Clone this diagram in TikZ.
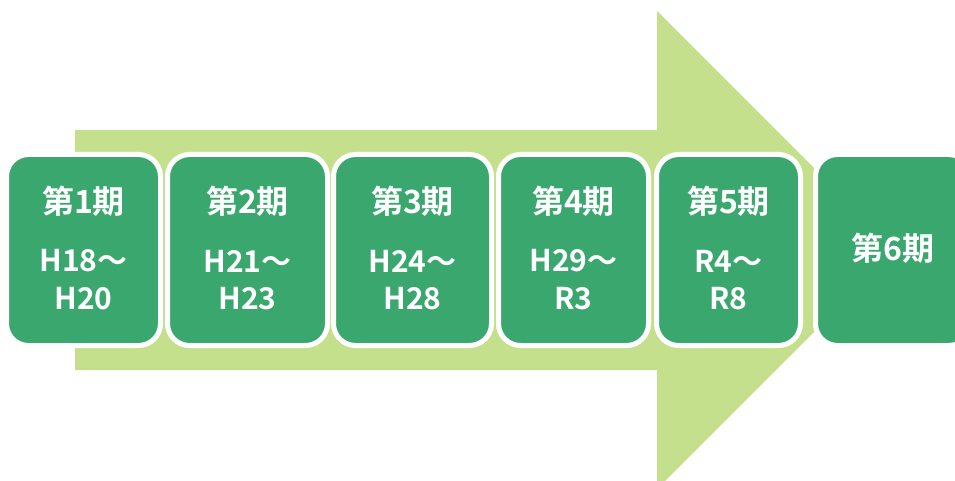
\documentclass[tikz,border=0pt]{standalone}
\usepackage{fontspec}
\newfontfamily\jpb{Noto Sans CJK JP Bold}
\definecolor{dkgreen}{RGB}{58,167,110}
\definecolor{ltgreen}{RGB}{196,224,140}
\tikzset{
  period/.style={draw=white, line width=5pt, fill=dkgreen, rounded corners=22pt,
    inner sep=0pt, minimum height=191pt},
  ttl/.style={text=white, font=\jpb\fontsize{32}{32}\selectfont, inner sep=0pt},
  yrs/.style={text=white, font=\jpb\fontsize{30}{30}\selectfont, inner sep=0pt}
}
\begin{document}
\begin{tikzpicture}[x=1pt,y=-1pt]
\useasboundingbox (0,0) rectangle (955,481);
\clip (0,0) rectangle (955,481);
% big arrow
\fill[ltgreen] (75,130) -- (657,130) -- (657,11) -- (896,250) -- (657,489) -- (657,370) -- (75,370) -- cycle;
% boxes
\node[period, minimum width=154pt] (b1) at (83.5,250) {};
\node[period, minimum width=160pt] (b2) at (247.5,250) {};
\node[period, minimum width=158pt] (b3) at (412.5,250) {};
\node[period, minimum width=150pt] (b4) at (573.5,250) {};
\node[period, minimum width=144pt] (b5) at (728.5,250) {};
\node[period, minimum width=155pt] (b6) at (893,250) {};
% labels
\node[ttl] (t1) at ([yshift=48.5pt]b1.center) {第1期};
\node[yrs] (y1a) at ([yshift=-11pt]b1.center) {H18～};
\node[yrs] (y1b) at ([yshift=-49pt]b1.center) {H20};
\node[ttl] (t2) at ([yshift=48.5pt]b2.center) {第2期};
\node[yrs] (y2a) at ([yshift=-11pt]b2.center) {H21～};
\node[yrs] (y2b) at ([yshift=-49pt]b2.center) {H23};
\node[ttl] (t3) at ([yshift=48.5pt]b3.center) {第3期};
\node[yrs] (y3a) at ([yshift=-11pt]b3.center) {H24～};
\node[yrs] (y3b) at ([yshift=-49pt]b3.center) {H28};
\node[ttl] (t4) at ([yshift=48.5pt]b4.center) {第4期};
\node[yrs] (y4a) at ([yshift=-11pt]b4.center) {H29～};
\node[yrs] (y4b) at ([yshift=-49pt]b4.center) {R3};
\node[ttl] (t5) at ([yshift=48.5pt]b5.center) {第5期};
\node[yrs] (y5a) at ([yshift=-11pt]b5.center) {R4～};
\node[yrs] (y5b) at ([yshift=-49pt]b5.center) {R8};
\node[ttl] (t6) at ([yshift=2pt]b6.center) {第6期};
\end{tikzpicture}
\end{document}
